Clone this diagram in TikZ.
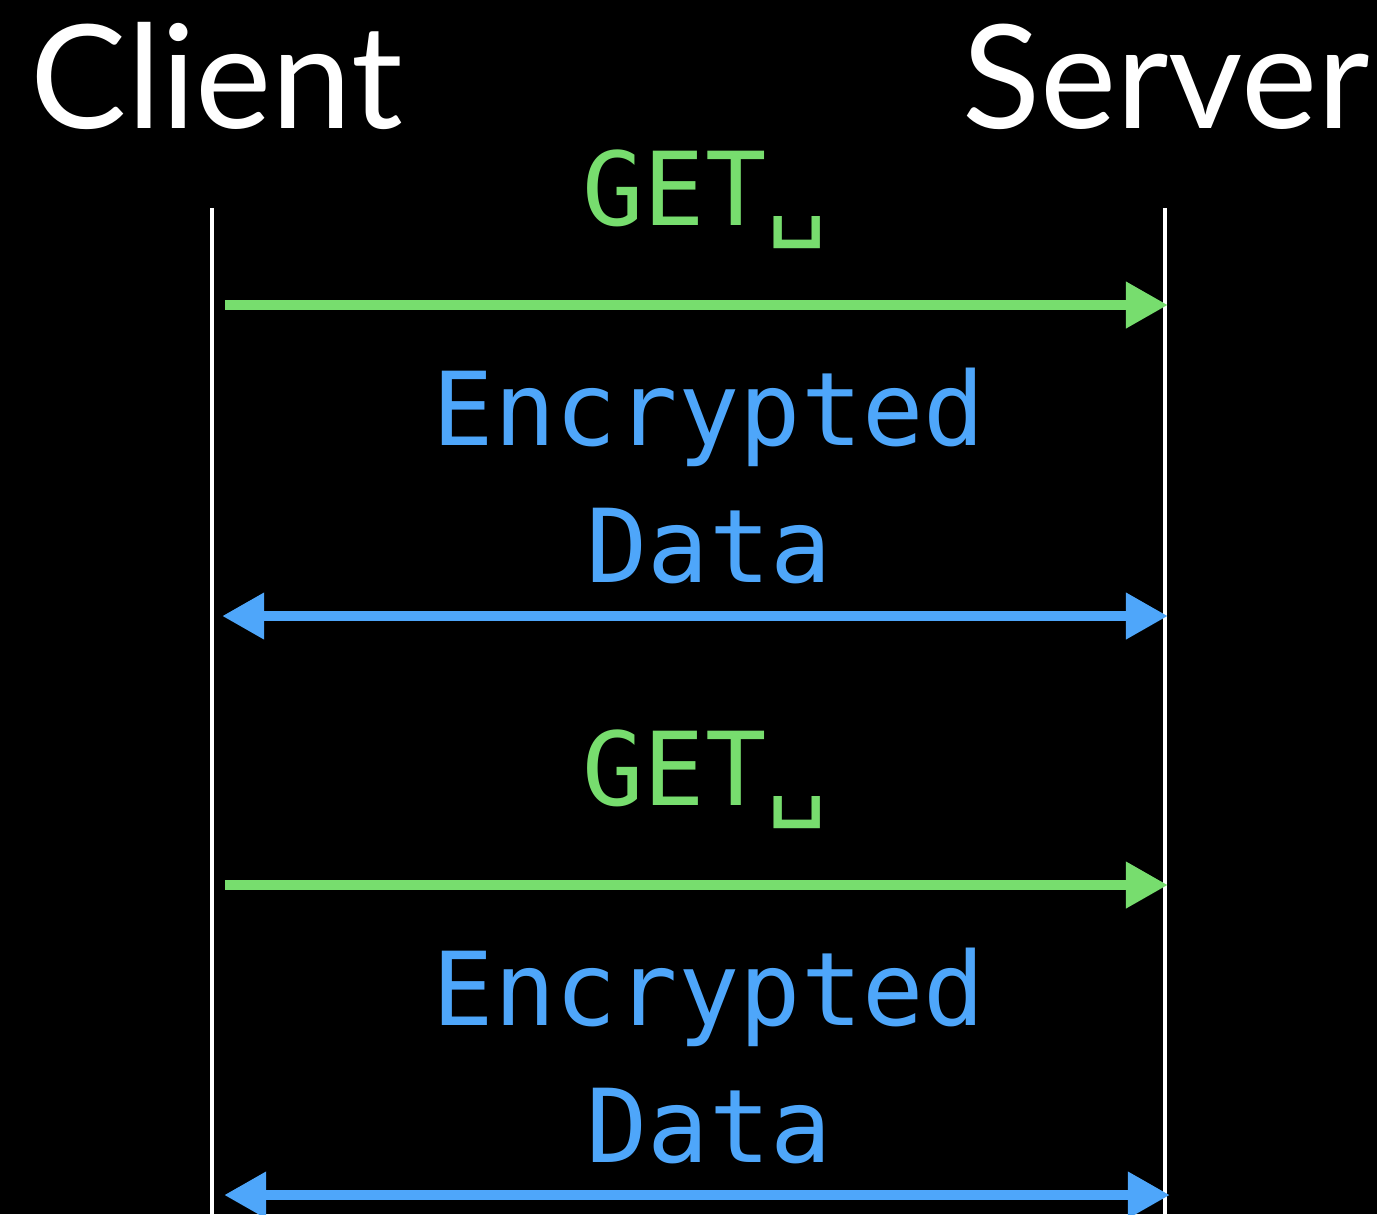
\documentclass[tikz,border=0pt]{standalone}
\usepackage{fontspec}
\setmainfont{Lato}
\setmonofont{DejaVu Sans Mono}
\usetikzlibrary{arrows.meta}
\definecolor{getgreen}{RGB}{119,221,110}
\definecolor{datablue}{RGB}{78,166,250}
\begin{document}
\begin{tikzpicture}[x=0.01cm,y=-0.01cm,
	party/.style={text=white,font=\fontsize{41}{41}\selectfont,anchor=base,inner sep=0pt},
	msg/.style={font=\ttfamily\fontsize{29}{29}\selectfont,anchor=base,inner sep=0pt},
	life/.style={white,line width=1.1pt},
	req/.style={getgreen,line width=3pt,-{Triangle[length=12pt,width=12.5pt]}},
	resp/.style={datablue,line width=3pt,{Triangle[length=12pt,width=12.5pt]}-{Triangle[length=12pt,width=12.5pt]}}]
	\fill [black] (0,0) rectangle (1377,1214);
	\useasboundingbox (0,0) rectangle (1377,1214);
	% the two parties
	\node [party] (client) at (217,128) {Client};
	\node [party] (server) at (1166,128) {Server};
	\coordinate (ctop) at (212,208); \coordinate (cbot) at (212,1214);
	\coordinate (stop) at (1165,208); \coordinate (sbot) at (1165,1214);
	\draw [life] (ctop) -- (cbot);
	\draw [life] (stop) -- (sbot);
	% first request
	\node [msg,text=getgreen] (get1) at (705,225) {GET␣};
	\coordinate (g1a) at (225,305); \coordinate (g1b) at (1168,305);
	\draw [req] (g1a) -- (g1b);
	\node [msg,text=datablue] (enc1) at (709,445) {Encrypted};
	\node [msg,text=datablue] (dat1) at (709,582) {Data};
	\coordinate (d1a) at (222,616); \coordinate (d1b) at (1168,616);
	\draw [resp] (d1a) -- (d1b);
	% second request
	\node [msg,text=getgreen] (get2) at (705,805) {GET␣};
	\coordinate (g2a) at (225,885); \coordinate (g2b) at (1168,885);
	\draw [req] (g2a) -- (g2b);
	\node [msg,text=datablue] (enc2) at (709,1025) {Encrypted};
	\node [msg,text=datablue] (dat2) at (709,1162) {Data};
	\coordinate (d2a) at (224,1195); \coordinate (d2b) at (1170,1195);
	\draw [resp] (d2a) -- (d2b);
\end{tikzpicture}
\end{document}
